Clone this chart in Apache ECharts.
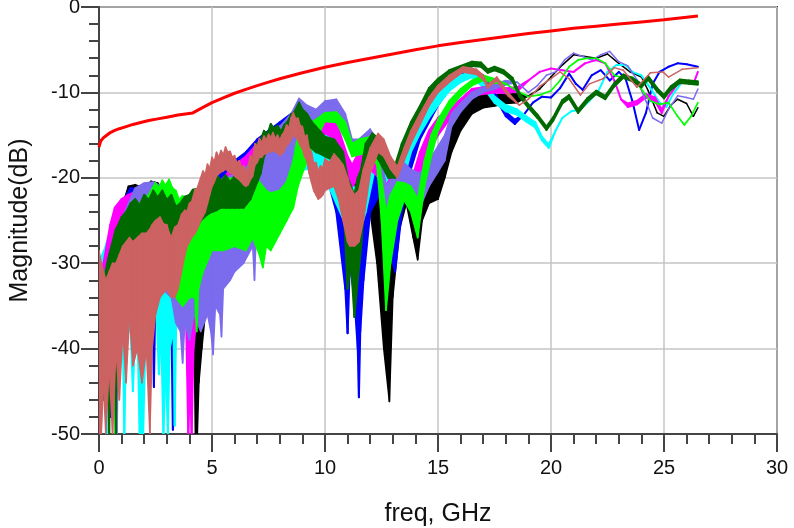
<!DOCTYPE html>
<html>
<head>
<meta charset="utf-8">
<script src="https://cdn.jsdelivr.net/npm/echarts@6/dist/echarts.min.js"></script>
<style>
  html, body { margin: 0; padding: 0; background: #ffffff; }
  #chart { width: 794px; height: 528px; }
</style>
</head>
<body>
<div id="chart"></div>
<script>
// Frequency axis (GHz) and magnitude axis (dB)
const xTicks = [0, 5, 10, 15, 20, 25, 30];
const yTicks = [-50, -40, -30, -20, -10, 0];

// Each trace row: [freq GHz, upper dB, lower dB]; the noisy traces are kept as
// an upper/lower envelope, a row with one value is a clean single point.
const traceBlack = [
  [0, -33, -36], [0.3, -30, -34], [0.6, -27, -33], [1.0, -23.5, -32], [1.3, -21, -32],
  [1.6, -20.8, -32], [2.0, -21.2, -32], [2.3, -20.4, -32], [2.6, -20.6, -32], [3.0, -22, -32],
  [3.5, -24, -33], [4.0, -26, -34], [4.2, -27, -38], [4.27, -28, -50], [4.35, -28, -50],
  [4.42, -27, -44], [4.55, -26, -40], [4.7, -25, -36], [5.0, -22, -32], [5.5, -20, -29],
  [6.0, -18.5, -27], [6.5, -17.5, -26], [7.0, -16, -25], [7.5, -14.5, -22], [8.0, -13.8, -21],
  [8.5, -12.8, -20], [9.0, -12.5, -19], [9.5, -14, -18], [10.0, -14, -18.5], [10.5, -16, -20],
  [11.0, -19, -26], [11.2, -20.3, -26], [11.5, -20, -30], [12.0, -18, -24], [12.3, -20.6, -30],
  [12.6, -25, -40], [12.85, -30, -46.2], [13.0, -24, -34], [13.3, -20, -26], [13.6, -19.5, -23],
  [13.9, -21, -27], [14.1, -23, -29.6], [14.3, -20.5, -25], [14.6, -19, -23], [15.0, -18, -22.5],
  [15.3, -16, -20], [15.6, -14, -17], [16.0, -12.5, -14.5], [16.5, -10.5, -12.5],
  [17.0, -10, -11.8], [17.5, -10.3, -11.6], [18.0, -10.1, -11.3], [18.5, -10.2, -11.2],
  [19.0, -10.4], [19.5, -9.6], [20.0, -8.2], [20.5, -6.8], [21.0, -5.6], [21.5, -5.8],
  [22.0, -6.0], [22.5, -5.5], [23.0, -6.6], [23.5, -7.6], [24.0, -8.2], [24.3, -9.8],
  [24.7, -12.4], [25.0, -12.8], [25.3, -11.5], [25.6, -10.8], [26.0, -11.3], [26.3, -12.8],
  [26.5, -11.8]
];

const traceBlue = [
  [0, -31, -44], [0.2, -29.5, -40], [0.45, -28, -38], [0.5, -28, -48], [0.55, -27.5, -38],
  [0.8, -26, -34], [1.0, -23, -33], [1.4, -21.2, -33], [1.8, -21.5, -33], [2.2, -21.8, -34],
  [2.38, -22, -36], [2.43, -22, -44.5], [2.48, -22, -36], [2.6, -21, -33], [3.0, -22, -34],
  [3.2, -23, -36], [3.27, -23, -49.5], [3.34, -23.5, -36], [3.6, -24, -34], [4.0, -25, -34],
  [4.6, -24, -32], [5.0, -21, -30], [5.5, -19, -27], [6.0, -18, -25], [6.5, -17, -24],
  [7.0, -15.5, -22], [7.5, -14.5, -21], [8.0, -13.5, -20], [8.5, -12.5, -19], [9.0, -12, -18],
  [9.5, -13.5, -18], [10.0, -14, -19], [10.5, -16.5, -24], [10.9, -21, -33], [11.0, -22, -38.2],
  [11.1, -22, -30], [11.3, -24, -34], [11.45, -25, -40], [11.5, -26, -45.7], [11.56, -25, -38],
  [11.7, -22, -32], [12.0, -17.5, -24], [12.4, -17, -22], [12.8, -20, -28], [13.1, -22, -31],
  [13.4, -17.5, -24], [13.8, -15, -19], [14.2, -12.5, -15.5], [14.6, -11.2, -13.5],
  [15.0, -9.8, -11.5], [15.5, -8.4, -9.6], [16.0, -7.4, -8.2], [16.5, -7.2, -7.8],
  [17.0, -8.0, -8.6], [17.5, -10, -10.5], [18.0, -12.3, -12.8], [18.4, -13.2, -13.7],
  [18.8, -12.6], [19.2, -11.2], [19.6, -10.5], [20.0, -10.6], [20.4, -9.5], [20.8, -7.8],
  [21.1, -9.0], [21.4, -9.7], [21.8, -8.0], [22.2, -7.4], [22.6, -8.6], [23.0, -7.6],
  [23.3, -8.4], [23.6, -11.0], [23.9, -14.4], [24.2, -12.4], [24.5, -9.0], [24.8, -7.6],
  [25.2, -7.0], [25.6, -6.6], [26.0, -6.7], [26.5, -7.0]
];

const traceCyan = [
  [0, -30, -44], [0.15, -29, -40], [0.3, -28, -44], [0.35, -27.5, -50], [0.42, -27, -40],
  [0.8, -25, -36], [1.05, -24, -38], [1.12, -24, -50], [1.2, -24, -38], [1.4, -23, -38],
  [1.5, -23, -45], [1.6, -23, -38], [1.72, -22.8, -40], [1.8, -22.5, -50], [1.95, -22.5, -50],
  [2.05, -22.5, -40], [2.2, -22.5, -35], [2.55, -22, -36], [2.65, -22, -43], [2.75, -22, -38],
  [2.85, -22, -50], [2.95, -22.2, -42], [3.05, -22.5, -50], [3.12, -22.8, -40], [3.3, -23.5, -38],
  [3.35, -24, -49], [3.42, -24, -36], [3.6, -24.5, -34], [4.0, -26, -34], [4.5, -24, -32],
  [5.0, -21.5, -30], [5.5, -20, -28], [6.0, -19, -26], [6.5, -18, -25], [7.0, -16.5, -23],
  [7.5, -15.5, -22], [8.0, -14.5, -21], [8.5, -13.5, -20], [9.0, -13, -19], [9.5, -14, -19],
  [10.0, -14.5, -20], [10.5, -16.5, -23], [11.0, -19, -26], [11.4, -22, -27.6], [11.8, -19, -24],
  [12.2, -15.8, -19], [12.5, -16.5, -21], [12.8, -19, -25], [13.1, -19.5, -25], [13.4, -16, -21],
  [13.8, -14, -17], [14.2, -12.6, -14.8], [14.6, -11.5, -13], [15.0, -10.3, -11.5],
  [15.5, -8.8, -9.8], [16.0, -8.0, -8.8], [16.5, -7.6, -8.2], [17.0, -8.6, -9.4],
  [17.5, -10.5, -11.2], [18.0, -11.5, -12.2], [18.5, -12, -12.6], [18.9, -12.8, -13.4],
  [19.3, -13.5, -14.1], [19.6, -15.2, -15.6], [19.9, -16.1, -16.5], [20.2, -14.5], [20.5, -13.0],
  [20.9, -12.2], [21.3, -12.0], [21.7, -11.0], [22.1, -9.8], [22.5, -7.6], [22.9, -6.8],
  [23.3, -6.8], [23.6, -7.6], [24.0, -8.0], [24.4, -9.5], [24.8, -11.2], [25.1, -11.7],
  [25.4, -10.2], [25.8, -8.8], [26.2, -8.9], [26.5, -8.8]
];

const traceMagenta = [
  [0, -32, -40], [0.2, -30, -38], [0.5, -25.5, -36], [0.7, -23.5, -34], [1.0, -22.5, -33],
  [1.3, -22, -33], [1.7, -21.5, -33], [2.2, -21.5, -33], [2.6, -21.5, -33], [3.0, -22, -33],
  [3.5, -24, -34], [3.85, -25, -36], [3.95, -25, -50], [4.03, -25.5, -44], [4.1, -26, -50],
  [4.18, -26, -40], [4.4, -25, -34], [4.7, -23, -32], [5.0, -21.5, -30], [5.5, -20, -28],
  [6.0, -18.5, -26], [6.5, -17.5, -25], [7.0, -16, -23], [7.5, -15, -22], [8.0, -14, -21],
  [8.5, -13, -20], [9.0, -12.5, -19], [9.5, -12.8, -16], [10.0, -13, -14.8], [10.5, -13.5, -15.5],
  [11.0, -17.5, -20.5], [11.2, -18.5, -21], [11.5, -17, -20], [12.0, -16, -19], [12.4, -17, -20],
  [12.7, -21, -24], [13.0, -19.5, -23], [13.4, -19, -22], [13.8, -20.5, -23.5], [14.2, -17, -20],
  [14.6, -14.5, -17], [15.0, -13, -15], [15.5, -11.8, -13.2], [16.0, -10.8, -11.8],
  [16.5, -9.6, -10.4], [17.0, -9.4, -10.2], [17.5, -9.2, -10.0], [18.0, -9.5, -10.1],
  [18.5, -9.4, -9.9], [19.0, -8.6], [19.5, -7.6], [20.0, -7.2], [20.5, -7.4], [21.0, -7.6],
  [21.5, -6.6], [22.0, -6.2], [22.4, -6.6], [22.8, -8.6], [23.1, -10.8], [23.4, -11.3, -11.7],
  [23.8, -11.0, -11.4], [24.2, -10.2, -10.6], [24.6, -10.6, -11.0], [24.9, -12.0, -12.4],
  [25.2, -10.5], [25.6, -9.0], [26.0, -8.8], [26.3, -9.0], [26.5, -7.6]
];

const traceLavender = [
  [0, -33, -40], [0.5, -29, -36], [0.75, -27, -38], [0.8, -26.5, -50], [0.86, -26, -38],
  [1.0, -25, -34], [1.3, -23, -33], [1.6, -21.2, -33], [2.0, -20.6, -33], [2.4, -20.5, -33],
  [2.8, -21, -33], [3.2, -22, -34], [3.4, -22.5, -37], [3.6, -23, -38], [3.7, -23, -41.7],
  [3.8, -23, -37], [4.0, -23, -39], [4.2, -23, -36], [4.5, -22.5, -38], [4.8, -22, -36],
  [4.95, -21.8, -38], [5.05, -21.5, -40.7], [5.15, -21.2, -35], [5.35, -20.7, -36],
  [5.42, -20.5, -38.6], [5.5, -20.2, -33], [5.8, -19.8, -32], [6.0, -19.5, -31], [6.4, -19, -30],
  [6.8, -18, -28], [6.88, -18, -32], [6.95, -17.5, -27], [7.0, -17, -25], [7.5, -15.5, -23.5],
  [8.0, -14, -23], [8.5, -12.5, -22], [8.85, -10.7, -18], [9.2, -11.5, -16], [9.6, -12, -14.5],
  [10.0, -11.0, -12.4], [10.5, -10.8, -12.3], [10.9, -12.5, -14.5], [11.2, -15.5, -17],
  [11.5, -15.5, -17], [12.0, -14.3, -16], [12.4, -16, -19], [12.7, -21, -27.3], [13.0, -20, -24],
  [13.4, -18, -22], [13.8, -19, -23], [14.2, -19.5, -23.5], [14.6, -18, -21], [15.0, -16.3, -19.3],
  [15.3, -15, -18], [15.6, -12.5, -14], [16.0, -11.3, -12.3], [16.5, -10, -10.8],
  [17.0, -9.4, -10], [17.5, -9.0, -9.6], [18.0, -8.6, -9.1], [18.5, -8.8], [19.0, -10.0],
  [19.4, -9.2], [19.8, -8.0], [20.2, -7.6], [20.6, -6.2], [21.0, -5.4], [21.4, -5.8],
  [21.8, -6.2], [22.2, -5.6], [22.6, -5.2], [23.0, -6.4], [23.4, -6.9], [23.8, -8.5],
  [24.2, -11.0], [24.5, -13.0], [24.9, -13.6], [25.2, -12.0], [25.6, -10.4], [26.0, -10.6],
  [26.3, -10.8], [26.5, -9.6]
];

const traceGreen = [
  [0, -34, -40], [0.3, -31, -36], [0.65, -28, -36], [0.72, -27.5, -50], [0.78, -27, -36],
  [1.3, -24, -33], [1.8, -23, -33], [2.2, -22, -33], [2.5, -20.6, -33], [2.65, -21.2, -33],
  [2.8, -20.3, -33], [2.95, -20.9, -33], [3.1, -20.2, -33], [3.25, -21.2, -33.5], [3.4, -21.5, -34],
  [3.55, -22.6, -34.5], [3.7, -22.1, -35], [3.85, -23.0, -34.5], [4.0, -22.4, -34], [4.15, -22.9, -34],
  [4.25, -22, -34], [4.32, -22, -38], [4.4, -21.6, -33], [4.6, -21, -31], [5.0, -20.4, -28.5],
  [5.5, -20.2, -28.5], [6.0, -20.0, -28], [6.5, -19.8, -28.5], [6.8, -20, -27], [7.1, -20.5, -29],
  [7.25, -21, -30.5], [7.4, -21.5, -28], [7.6, -21.8, -28.5], [8.0, -21.5, -26.5], [8.3, -20.5, -25],
  [8.6, -18, -23.5], [8.8, -15, -21], [9.2, -13.8, -18], [9.6, -13.2, -15.5], [10.0, -12.4, -13.4],
  [10.5, -12.3, -13.5], [10.9, -13.5, -15.5], [11.2, -16, -17.5], [11.5, -15.5, -17.3],
  [12.0, -15.2, -17], [12.3, -16.5, -18.5], [12.5, -20, -25], [12.7, -24, -35.5], [12.9, -22, -30],
  [13.2, -20.5, -25], [13.5, -20.6, -22.6], [13.8, -21, -24], [14.1, -22.5, -27], [14.4, -18, -21],
  [14.7, -15, -17.5], [15.0, -13.2, -14.5], [15.5, -11, -12], [16.0, -9.6, -10.4],
  [16.5, -8.6, -9.2], [17.0, -8.0, -8.6], [17.5, -8.4, -8.9], [18.0, -9.0], [18.5, -9.8],
  [19.0, -10.5], [19.5, -10.3], [20.0, -9.8], [20.4, -8.6], [20.8, -7.0], [21.2, -6.2],
  [21.6, -6.0], [22.0, -6.0], [22.4, -6.6], [22.8, -8.0], [23.2, -8.3], [23.6, -8.2],
  [24.0, -9.6], [24.4, -11.0], [24.8, -11.4], [25.2, -11.2], [25.6, -12.8], [25.9, -13.8],
  [26.2, -12.8], [26.5, -11.2]
];

const traceDarkGreen = [
  [0, -35, -40], [0.15, -33, -38], [0.2, -32, -46], [0.25, -31.5, -36], [0.4, -29.5, -34],
  [0.45, -29, -50], [0.5, -28.5, -34], [0.7, -26.5, -33], [0.75, -26, -50], [0.8, -25.8, -33],
  [1.0, -24.6, -31], [1.2, -24, -30], [1.4, -23.0, -29.5], [1.6, -22.5, -29], [1.8, -23.2, -29],
  [2.0, -22, -28.5], [2.2, -22.6, -28.5], [2.4, -21.5, -28.5], [2.6, -22.3, -28.5],
  [2.8, -21.5, -28.5], [3.0, -22.6, -28.5], [3.2, -22, -28.5], [3.4, -23.4, -28.5],
  [3.6, -23, -28.5], [3.8, -22.2, -28], [4.0, -22, -27], [4.15, -21.4, -26.5], [4.3, -21.3, -26],
  [4.5, -21.8, -25], [4.7, -21, -24.5], [4.85, -20.5, -24.2], [5.0, -20.3, -24], [5.2, -19.6, -23.8],
  [5.4, -20.4, -23.5], [5.6, -19.7, -23.5], [5.8, -20.5, -23.5], [6.0, -19.8, -23.5],
  [6.2, -20.6, -23.5], [6.4, -19.5, -23.5], [6.55, -20.0, -23], [6.7, -18.5, -22.5],
  [6.85, -17.6, -21.5], [7.0, -16.0, -20.5], [7.15, -15.6, -19.5], [7.3, -14.5, -17.5],
  [7.45, -14.9, -16.8], [7.6, -13.7, -15.8], [7.75, -14.2, -15.6], [7.9, -13.9, -15.4],
  [8.05, -14.6, -15.6], [8.2, -13.8, -15.3], [8.35, -13.4, -15], [8.5, -12.6, -14.6],
  [8.65, -12.3, -14.5], [8.85, -11.2, -14.5], [9.0, -12.0, -15.4], [9.2, -12.5, -16],
  [9.4, -13.4, -16.5], [9.6, -14.0, -17], [9.8, -14.6, -17.2], [10.0, -15.2, -17.5],
  [10.4, -15.5, -18], [10.8, -17, -22], [11.0, -20, -33], [11.15, -21, -30], [11.3, -22, -36.3],
  [11.45, -20, -32], [11.6, -19, -28], [11.8, -16, -21], [12.1, -14.8, -17], [12.4, -15.5, -18],
  [12.8, -17.5, -20], [13.1, -18.5, -20], [13.4, -16, -18], [13.8, -13.5, -15.5],
  [14.2, -11.6, -13.2], [14.6, -9.5, -10.6], [15.0, -8.4, -9.2], [15.5, -7.4, -8.0],
  [16.0, -6.9, -7.4], [16.5, -6.4, -6.9], [16.9, -6.5, -7.0], [17.2, -7.3, -7.7], [17.5, -7.0, -7.4],
  [17.9, -7.4, -7.8], [18.3, -8.3, -8.7], [18.6, -10.1, -10.5], [19.0, -11.4, -11.8],
  [19.4, -12.6, -13.0], [19.8, -14.0, -14.4], [20.1, -12.9, -13.3], [20.5, -10.9, -11.3],
  [20.8, -10.3, -10.7], [21.2, -12.0, -12.4], [21.6, -10.7, -11.1], [22.0, -9.8, -10.2],
  [22.4, -10.4, -10.8], [22.8, -8.9, -9.3], [23.2, -7.9, -8.3], [23.6, -8.3, -8.7],
  [24.0, -9.0, -9.4], [24.3, -8.1, -8.5], [24.7, -9.5, -9.9], [25.0, -10.3, -10.7],
  [25.3, -9.3, -9.7], [25.7, -8.5, -8.9], [26.1, -8.6, -9.0], [26.5, -8.7, -9.1]
];

const traceRose = [
  [0, -28.5, -50], [0.1, -30, -50], [0.2, -31, -44], [0.3, -32, -50], [0.45, -31, -42],
  [0.6, -30, -50], [0.75, -30, -40], [0.9, -29, -46], [1.05, -28, -38], [1.2, -27.5, -44],
  [1.35, -27, -36], [1.5, -27.5, -42], [1.7, -27, -40], [1.9, -26.5, -44], [2.1, -26.5, -40],
  [2.25, -26, -50], [2.35, -25.5, -40], [2.5, -25, -36], [2.7, -24.6, -34], [2.85, -25.4, -33.5],
  [3.0, -25.5, -33], [3.1, -26.4, -33.5], [3.2, -27, -34], [3.35, -25.8, -34], [3.5, -25.5, -33],
  [3.65, -24.3, -31], [3.8, -23.8, -29], [3.9, -23.9, -28], [4.0, -23, -27.5], [4.1, -22.8, -27],
  [4.25, -21.4, -26.5], [4.35, -21.2, -26], [4.5, -20, -25], [4.6, -19.2, -24.5], [4.7, -19.6, -24],
  [4.8, -18.4, -23], [4.9, -18.9, -22], [5.0, -17.6, -21], [5.1, -18.1, -20.5], [5.2, -17.0, -19.8],
  [5.3, -17.6, -19.5], [5.4, -16.8, -19.3], [5.5, -17.3, -19.2], [5.6, -16.4, -19],
  [5.7, -17.0, -19.2], [5.8, -16.9, -19.4], [5.9, -17.6, -19.5], [6.0, -17.4, -19.8],
  [6.1, -18.3, -20], [6.2, -18.0, -20.2], [6.3, -18.8, -20.5], [6.4, -18.6, -20.8],
  [6.5, -19.4, -21], [6.6, -18.6, -20.8], [6.7, -17.4, -20.2], [6.8, -17.8, -19.8],
  [6.9, -16.0, -18.5], [7.0, -16.3, -18.2], [7.1, -15.4, -17.6], [7.2, -15.9, -17.6],
  [7.3, -15.1, -17.2], [7.4, -15.6, -17.2], [7.5, -14.9, -16.9], [7.6, -15.3, -17],
  [7.7, -14.7, -16.8], [7.8, -15.4, -17], [7.9, -15.0, -17], [8.0, -15.6, -17.4],
  [8.1, -15.0, -17.2], [8.2, -14.6, -16.8], [8.3, -13.8, -16.2], [8.4, -14.2, -16],
  [8.5, -13.0, -15.5], [8.6, -12.4, -15], [8.7, -13.1, -15.2], [8.8, -13.0, -15.6],
  [8.9, -13.9, -16.2], [9.0, -14.0, -16.6], [9.1, -15.2, -17.5], [9.2, -15.0, -18],
  [9.3, -16.6, -19.5], [9.4, -17.0, -20.5], [9.5, -18.3, -21.5], [9.6, -18.2, -22],
  [9.7, -19.2, -22.5], [9.8, -18.6, -22.3], [9.9, -18.9, -22], [10.0, -17.8, -21.5],
  [10.2, -18.2, -21.2], [10.4, -17.2, -21], [10.6, -17.8, -22.5], [10.8, -18.5, -25],
  [11.0, -20, -27.5], [11.1, -21, -28], [11.3, -22, -28], [11.5, -21.5, -27.5], [11.7, -19, -25],
  [12.0, -16.5, -19.5], [12.35, -14.8, -17], [12.6, -15.5, -17.5], [12.9, -17.5, -19],
  [13.2, -18.7, -20], [13.5, -16.5, -18], [13.8, -14.5, -16], [14.2, -12.5, -13.8],
  [14.6, -10.6, -11.6], [15.0, -9.2, -10], [15.5, -8.0, -8.8], [16.1, -7.0, -7.6],
  [16.7, -7.3, -7.9], [17.0, -8.0, -8.5], [17.2, -9.1, -9.5], [17.6, -8.2, -8.6],
  [18.1, -10.0, -10.4], [18.6, -11.5], [19.0, -10.8], [19.5, -9.3], [20.0, -8.4], [20.4, -7.6],
  [20.8, -8.4], [21.3, -10.3], [21.7, -9.0], [22.3, -8.4], [22.8, -7.1], [23.2, -7.4],
  [23.8, -9.4], [24.4, -7.7], [24.95, -7.6], [25.2, -8.2], [25.8, -7.3], [26.5, -7.1]
];

// Reference limit line
const limitLine = [
  [0, -16.4], [0.05, -15.9], [0.1, -15.6], [0.2, -15.3], [0.3, -15.1], [0.5, -14.7],
  [0.7, -14.45], [0.9, -14.25], [1.2, -14.0], [1.5, -13.75], [1.8, -13.55], [2.2, -13.3],
  [2.6, -13.1], [3.0, -12.9], [3.5, -12.65], [4.15, -12.4], [4.6, -11.75], [5.0, -11.2],
  [5.5, -10.65], [6.0, -10.1], [6.5, -9.65], [7.0, -9.2], [7.5, -8.8], [8.0, -8.4], [8.5, -8.05],
  [9.0, -7.7], [10.0, -7.05], [11, -6.5], [12, -6.0], [13, -5.5], [14, -5.0], [15, -4.55],
  [16, -4.15], [17, -3.8], [18, -3.45], [19, -3.1], [20, -2.8], [21, -2.5], [22, -2.25],
  [23, -2.0], [24, -1.75], [25, -1.5], [26, -1.2], [26.5, -1.05]
];

// Turn envelope rows into consecutive segments [f0, hi0, lo0, f1, hi1, lo1]
function toSegments(rows) {
  const out = [];
  for (let i = 0; i < rows.length - 1; i++) {
    const a = rows[i], b = rows[i + 1];
    out.push([a[0], a[1], a.length > 2 ? a[2] : a[1], b[0], b[1], b.length > 2 ? b[2] : b[1]]);
  }
  return out;
}

function bandSeries(name, rows, color, width) {
  return {
    name: name,
    type: 'custom',
    clip: true,
    silent: true,
    encode: { x: [0, 3], y: [1, 2, 4, 5] },
    data: toSegments(rows),
    renderItem: function (params, api) {
      const p0h = api.coord([api.value(0), api.value(1)]);
      const p1h = api.coord([api.value(3), api.value(4)]);
      const p1l = api.coord([api.value(3), api.value(5)]);
      const p0l = api.coord([api.value(0), api.value(2)]);
      return {
        type: 'polygon',
        shape: { points: [p0h, p1h, p1l, p0l] },
        style: { fill: color, stroke: color, lineWidth: width, lineJoin: 'round' }
      };
    }
  };
}

const FONT = '"Liberation Sans", Arial, sans-serif';
const AXIS_COLOR = '#444444';

const chart = echarts.init(document.getElementById('chart'), null, { renderer: 'canvas' });

chart.setOption({
  animation: false,
  backgroundColor: '#ffffff',
  grid: {
    left: 99, right: 17, top: 7, bottom: 94,
    containLabel: false, outerBoundsMode: 'none',
    show: true, borderColor: AXIS_COLOR, borderWidth: 2, backgroundColor: 'transparent'
  },
  xAxis: {
    type: 'value',
    min: xTicks[0], max: xTicks[xTicks.length - 1], interval: xTicks[1] - xTicks[0],
    name: 'freq, GHz', nameLocation: 'middle', nameGap: 68,
    nameTextStyle: { fontSize: 25, color: '#111', fontFamily: FONT },
    axisLine: { onZero: false, lineStyle: { color: AXIS_COLOR, width: 2 } },
    axisTick: { length: 18, lineStyle: { color: AXIS_COLOR, width: 2 } },
    minorTick: { show: true, splitNumber: 5, length: 10, lineStyle: { color: AXIS_COLOR, width: 2 } },
    axisLabel: { fontSize: 20, color: '#111', fontFamily: FONT, margin: 24 },
    splitLine: { show: true, lineStyle: { color: '#c4c4c4', width: 1.5 } }
  },
  yAxis: {
    type: 'value',
    min: yTicks[0], max: yTicks[yTicks.length - 1], interval: yTicks[1] - yTicks[0],
    name: 'Magnitude(dB)', nameLocation: 'middle', nameGap: 66, nameRotate: 90,
    nameTextStyle: { fontSize: 25, color: '#111', fontFamily: FONT },
    axisLine: { onZero: false, lineStyle: { color: AXIS_COLOR, width: 2 } },
    axisTick: { length: 18, lineStyle: { color: AXIS_COLOR, width: 2 } },
    minorTick: { show: true, splitNumber: 5, length: 10, lineStyle: { color: AXIS_COLOR, width: 2 } },
    axisLabel: { fontSize: 20, color: '#111', fontFamily: FONT, margin: 19 },
    splitLine: { show: true, lineStyle: { color: '#c4c4c4', width: 1.5 } }
  },
  series: [
    bandSeries('black', traceBlack, '#000000', 1.5),
    bandSeries('blue', traceBlue, '#0000ff', 2),
    bandSeries('cyan', traceCyan, '#00ffff', 2),
    bandSeries('magenta', traceMagenta, '#ff00ff', 2),
    bandSeries('lavender', traceLavender, '#7b6cee', 1.5),
    bandSeries('green', traceGreen, '#00ff00', 1.7),
    bandSeries('darkgreen', traceDarkGreen, '#006a00', 2),
    bandSeries('rose', traceRose, '#cc6262', 1.5),
    {
      name: 'limit', type: 'line', data: limitLine, showSymbol: false, silent: true,
      lineStyle: { color: '#ff0000', width: 3 }, z: 5
    }
  ]
});
</script>
</body>
</html>
